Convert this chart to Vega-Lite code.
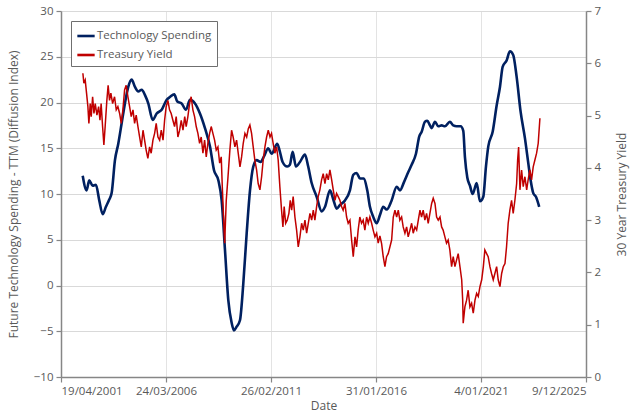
{
  "$schema": "https://vega.github.io/schema/vega-lite/v6.json",
  "width": 525,
  "height": 366,
  "autosize": {"type": "none"},
  "padding": {"left": 61, "top": 11, "right": 54, "bottom": 41},
  "background": "white",
  "config": {
    "font": "Open Sans",
    "view": {"stroke": null},
    "axis": {
      "labelFont": "Open Sans",
      "labelFontSize": 11.5,
      "labelColor": "#595959",
      "titleFont": "Open Sans",
      "titleFontSize": 12,
      "titleFontWeight": "normal",
      "titleColor": "#595959",
      "domainColor": "#868686",
      "domainWidth": 1.5,
      "tickColor": "#868686",
      "tickWidth": 1.2,
      "tickSize": 5,
      "gridColor": "#E3E3E3",
      "gridWidth": 1
    },
    "legend": {
      "labelFont": "Open Sans",
      "labelFontSize": 11.5,
      "labelColor": "#595959"
    }
  },
  "datasets": {
    "tech": [
      {"date": "2002-04-26", "value": 12.0},
      {"date": "2002-07-02", "value": 10.4},
      {"date": "2002-08-16", "value": 11.5},
      {"date": "2002-10-13", "value": 10.9},
      {"date": "2002-12-09", "value": 11.0},
      {"date": "2003-02-04", "value": 9.3},
      {"date": "2003-04-03", "value": 7.8},
      {"date": "2003-05-29", "value": 8.6},
      {"date": "2003-07-25", "value": 9.4},
      {"date": "2003-09-04", "value": 10.1},
      {"date": "2003-10-31", "value": 13.7},
      {"date": "2003-12-27", "value": 15.5},
      {"date": "2004-02-22", "value": 17.7},
      {"date": "2004-04-19", "value": 19.9},
      {"date": "2004-06-15", "value": 21.7},
      {"date": "2004-08-12", "value": 22.5},
      {"date": "2004-10-08", "value": 21.7},
      {"date": "2004-12-04", "value": 21.2},
      {"date": "2005-02-01", "value": 21.4},
      {"date": "2005-03-29", "value": 20.8},
      {"date": "2005-05-24", "value": 19.9},
      {"date": "2005-08-08", "value": 18.1},
      {"date": "2005-10-15", "value": 18.8},
      {"date": "2006-01-09", "value": 19.2},
      {"date": "2006-04-05", "value": 20.3},
      {"date": "2006-05-31", "value": 20.6},
      {"date": "2006-08-13", "value": 20.9},
      {"date": "2006-10-03", "value": 20.1},
      {"date": "2006-12-17", "value": 19.9},
      {"date": "2007-03-01", "value": 19.2},
      {"date": "2007-05-09", "value": 20.3},
      {"date": "2007-08-03", "value": 19.9},
      {"date": "2007-10-27", "value": 18.8},
      {"date": "2008-01-21", "value": 17.2},
      {"date": "2008-04-16", "value": 15.2},
      {"date": "2008-06-24", "value": 12.6},
      {"date": "2008-09-06", "value": 11.5},
      {"date": "2008-11-02", "value": 9.3},
      {"date": "2008-12-29", "value": 3.9},
      {"date": "2009-02-24", "value": -1.6},
      {"date": "2009-04-23", "value": -4.1},
      {"date": "2009-06-01", "value": -4.9},
      {"date": "2009-07-17", "value": -4.5},
      {"date": "2009-09-12", "value": -3.8},
      {"date": "2009-11-08", "value": 0.2},
      {"date": "2010-01-05", "value": 5.7},
      {"date": "2010-03-03", "value": 10.4},
      {"date": "2010-04-28", "value": 13.0},
      {"date": "2010-06-25", "value": 13.7},
      {"date": "2010-09-02", "value": 13.5},
      {"date": "2010-10-28", "value": 14.1},
      {"date": "2011-01-10", "value": 15.0},
      {"date": "2011-03-08", "value": 14.4},
      {"date": "2011-06-13", "value": 15.5},
      {"date": "2011-07-29", "value": 14.6},
      {"date": "2011-09-13", "value": 13.5},
      {"date": "2011-12-01", "value": 13.0},
      {"date": "2012-01-16", "value": 13.2},
      {"date": "2012-03-03", "value": 14.6},
      {"date": "2012-04-29", "value": 13.0},
      {"date": "2012-07-06", "value": 13.5},
      {"date": "2012-09-30", "value": 14.3},
      {"date": "2012-11-25", "value": 13.0},
      {"date": "2013-01-23", "value": 11.2},
      {"date": "2013-04-19", "value": 9.7},
      {"date": "2013-07-14", "value": 8.1},
      {"date": "2013-09-09", "value": 8.6},
      {"date": "2013-12-03", "value": 10.4},
      {"date": "2014-01-29", "value": 9.4},
      {"date": "2014-03-28", "value": 8.4},
      {"date": "2014-05-23", "value": 8.8},
      {"date": "2014-08-17", "value": 9.3},
      {"date": "2014-11-10", "value": 10.4},
      {"date": "2015-01-06", "value": 12.1},
      {"date": "2015-03-05", "value": 12.3},
      {"date": "2015-05-01", "value": 11.7},
      {"date": "2015-07-08", "value": 11.7},
      {"date": "2015-09-03", "value": 10.4},
      {"date": "2015-10-19", "value": 8.6},
      {"date": "2015-12-15", "value": 7.5},
      {"date": "2016-02-12", "value": 6.8},
      {"date": "2016-04-08", "value": 7.7},
      {"date": "2016-06-03", "value": 8.6},
      {"date": "2016-08-01", "value": 8.3},
      {"date": "2016-10-25", "value": 9.3},
      {"date": "2017-01-19", "value": 10.8},
      {"date": "2017-03-17", "value": 10.4},
      {"date": "2017-05-25", "value": 11.3},
      {"date": "2017-08-07", "value": 12.4},
      {"date": "2017-10-03", "value": 13.2},
      {"date": "2017-12-16", "value": 14.4},
      {"date": "2018-02-11", "value": 16.3},
      {"date": "2018-03-24", "value": 16.8},
      {"date": "2018-05-19", "value": 17.9},
      {"date": "2018-06-28", "value": 18.0},
      {"date": "2018-08-13", "value": 17.5},
      {"date": "2018-09-11", "value": 17.2},
      {"date": "2018-11-07", "value": 17.9},
      {"date": "2019-01-02", "value": 17.4},
      {"date": "2019-03-01", "value": 17.5},
      {"date": "2019-04-27", "value": 17.4},
      {"date": "2019-07-21", "value": 17.9},
      {"date": "2019-09-16", "value": 17.5},
      {"date": "2019-11-13", "value": 17.4},
      {"date": "2020-01-21", "value": 17.4},
      {"date": "2020-03-06", "value": 16.9},
      {"date": "2020-04-04", "value": 14.0},
      {"date": "2020-05-14", "value": 11.8},
      {"date": "2020-06-29", "value": 10.9},
      {"date": "2020-08-14", "value": 10.0},
      {"date": "2020-10-22", "value": 11.2},
      {"date": "2020-12-17", "value": 9.2},
      {"date": "2021-02-12", "value": 9.7},
      {"date": "2021-03-30", "value": 13.0},
      {"date": "2021-05-09", "value": 15.2},
      {"date": "2021-07-23", "value": 16.8},
      {"date": "2021-09-30", "value": 19.7},
      {"date": "2021-11-25", "value": 21.7},
      {"date": "2022-01-10", "value": 23.9},
      {"date": "2022-03-19", "value": 24.6},
      {"date": "2022-05-15", "value": 25.6},
      {"date": "2022-07-10", "value": 25.2},
      {"date": "2022-09-07", "value": 22.8},
      {"date": "2022-11-14", "value": 19.0},
      {"date": "2023-01-27", "value": 16.1},
      {"date": "2023-03-25", "value": 13.4},
      {"date": "2023-05-05", "value": 11.5},
      {"date": "2023-06-19", "value": 10.1},
      {"date": "2023-08-04", "value": 9.7},
      {"date": "2023-09-29", "value": 8.6}
    ],
    "yield": [
      {"date": "2002-04-29", "value": 5.81},
      {"date": "2002-05-16", "value": 5.62},
      {"date": "2002-06-08", "value": 5.68},
      {"date": "2002-07-01", "value": 5.43},
      {"date": "2002-07-24", "value": 5.17},
      {"date": "2002-08-10", "value": 4.85},
      {"date": "2002-09-02", "value": 5.23},
      {"date": "2002-09-19", "value": 4.98},
      {"date": "2002-10-13", "value": 5.36},
      {"date": "2002-11-05", "value": 5.04},
      {"date": "2002-11-27", "value": 5.23},
      {"date": "2002-12-26", "value": 5.01},
      {"date": "2003-01-24", "value": 5.17},
      {"date": "2003-02-16", "value": 4.91},
      {"date": "2003-03-08", "value": 5.23},
      {"date": "2003-04-02", "value": 4.79},
      {"date": "2003-04-24", "value": 4.44},
      {"date": "2003-05-16", "value": 4.79},
      {"date": "2003-06-14", "value": 5.29},
      {"date": "2003-07-06", "value": 5.58},
      {"date": "2003-07-30", "value": 5.29},
      {"date": "2003-08-22", "value": 5.43},
      {"date": "2003-09-21", "value": 5.23},
      {"date": "2003-10-24", "value": 5.36},
      {"date": "2003-11-22", "value": 5.11},
      {"date": "2003-12-20", "value": 5.17},
      {"date": "2004-01-19", "value": 5.04},
      {"date": "2004-02-16", "value": 4.85},
      {"date": "2004-03-15", "value": 5.11},
      {"date": "2004-04-13", "value": 5.49},
      {"date": "2004-05-10", "value": 5.58},
      {"date": "2004-06-09", "value": 5.36},
      {"date": "2004-07-08", "value": 5.17},
      {"date": "2004-08-05", "value": 4.98},
      {"date": "2004-09-04", "value": 5.11},
      {"date": "2004-10-02", "value": 4.85},
      {"date": "2004-10-29", "value": 5.01},
      {"date": "2004-11-28", "value": 4.79},
      {"date": "2004-12-27", "value": 4.59},
      {"date": "2005-01-24", "value": 4.40},
      {"date": "2005-02-23", "value": 4.72},
      {"date": "2005-03-22", "value": 4.53},
      {"date": "2005-04-18", "value": 4.34},
      {"date": "2005-05-17", "value": 4.18},
      {"date": "2005-06-16", "value": 4.40},
      {"date": "2005-07-13", "value": 4.28},
      {"date": "2005-08-12", "value": 4.53},
      {"date": "2005-09-10", "value": 4.66},
      {"date": "2005-10-07", "value": 4.85},
      {"date": "2005-11-06", "value": 4.59},
      {"date": "2005-12-05", "value": 4.53},
      {"date": "2006-01-02", "value": 4.72},
      {"date": "2006-02-01", "value": 4.53},
      {"date": "2006-02-28", "value": 4.91},
      {"date": "2006-03-27", "value": 5.17},
      {"date": "2006-04-25", "value": 5.29},
      {"date": "2006-05-24", "value": 5.11},
      {"date": "2006-06-21", "value": 5.04},
      {"date": "2006-07-20", "value": 4.91},
      {"date": "2006-08-18", "value": 4.79},
      {"date": "2006-09-15", "value": 4.98},
      {"date": "2006-10-14", "value": 4.59},
      {"date": "2006-11-13", "value": 4.72},
      {"date": "2006-12-10", "value": 4.91},
      {"date": "2007-01-09", "value": 4.72},
      {"date": "2007-02-08", "value": 4.98},
      {"date": "2007-03-05", "value": 4.79},
      {"date": "2007-04-03", "value": 4.98},
      {"date": "2007-05-02", "value": 5.23},
      {"date": "2007-05-29", "value": 5.36},
      {"date": "2007-06-28", "value": 5.11},
      {"date": "2007-07-27", "value": 4.98},
      {"date": "2007-08-24", "value": 4.79},
      {"date": "2007-09-22", "value": 4.66},
      {"date": "2007-10-21", "value": 4.47},
      {"date": "2007-11-18", "value": 4.59},
      {"date": "2007-12-17", "value": 4.28},
      {"date": "2008-01-15", "value": 4.53},
      {"date": "2008-02-12", "value": 4.21},
      {"date": "2008-03-11", "value": 4.47},
      {"date": "2008-04-10", "value": 4.66},
      {"date": "2008-05-07", "value": 4.79},
      {"date": "2008-06-05", "value": 4.66},
      {"date": "2008-07-04", "value": 4.53},
      {"date": "2008-08-01", "value": 4.34},
      {"date": "2008-08-30", "value": 4.40},
      {"date": "2008-09-29", "value": 4.09},
      {"date": "2008-10-26", "value": 4.21},
      {"date": "2008-11-13", "value": 3.64},
      {"date": "2008-12-07", "value": 3.00},
      {"date": "2008-12-24", "value": 2.56},
      {"date": "2009-01-20", "value": 3.38},
      {"date": "2009-02-19", "value": 3.83},
      {"date": "2009-03-23", "value": 4.34},
      {"date": "2009-04-21", "value": 4.72},
      {"date": "2009-05-18", "value": 4.59},
      {"date": "2009-06-17", "value": 4.40},
      {"date": "2009-07-16", "value": 4.53},
      {"date": "2009-08-13", "value": 4.28},
      {"date": "2009-09-12", "value": 4.02},
      {"date": "2009-10-10", "value": 4.21},
      {"date": "2009-11-07", "value": 4.47},
      {"date": "2009-12-06", "value": 4.66},
      {"date": "2010-01-05", "value": 4.59},
      {"date": "2010-02-02", "value": 4.75},
      {"date": "2010-03-01", "value": 4.82},
      {"date": "2010-03-30", "value": 4.66},
      {"date": "2010-04-27", "value": 4.40},
      {"date": "2010-05-25", "value": 4.15},
      {"date": "2010-06-24", "value": 3.96},
      {"date": "2010-07-21", "value": 3.70},
      {"date": "2010-08-20", "value": 3.58},
      {"date": "2010-09-18", "value": 3.83},
      {"date": "2010-10-15", "value": 4.15},
      {"date": "2010-11-14", "value": 4.40},
      {"date": "2010-12-13", "value": 4.59},
      {"date": "2011-01-10", "value": 4.72},
      {"date": "2011-02-09", "value": 4.59},
      {"date": "2011-03-07", "value": 4.66},
      {"date": "2011-04-04", "value": 4.47},
      {"date": "2011-05-03", "value": 4.28},
      {"date": "2011-06-02", "value": 4.40},
      {"date": "2011-06-29", "value": 4.15},
      {"date": "2011-07-28", "value": 3.64},
      {"date": "2011-08-26", "value": 3.19},
      {"date": "2011-09-18", "value": 2.87},
      {"date": "2011-10-10", "value": 3.26},
      {"date": "2011-11-04", "value": 2.94},
      {"date": "2011-12-01", "value": 3.00},
      {"date": "2011-12-30", "value": 3.13},
      {"date": "2012-01-22", "value": 3.38},
      {"date": "2012-02-15", "value": 3.19},
      {"date": "2012-03-12", "value": 3.45},
      {"date": "2012-04-11", "value": 3.06},
      {"date": "2012-05-10", "value": 2.81},
      {"date": "2012-06-07", "value": 2.49},
      {"date": "2012-07-06", "value": 2.68},
      {"date": "2012-08-04", "value": 2.94},
      {"date": "2012-09-01", "value": 2.81},
      {"date": "2012-09-30", "value": 3.00},
      {"date": "2012-10-29", "value": 2.75},
      {"date": "2012-11-26", "value": 2.94},
      {"date": "2012-12-25", "value": 3.13},
      {"date": "2013-01-23", "value": 3.00},
      {"date": "2013-02-20", "value": 3.19},
      {"date": "2013-03-19", "value": 3.00},
      {"date": "2013-04-18", "value": 3.26},
      {"date": "2013-05-15", "value": 3.45},
      {"date": "2013-06-13", "value": 3.58},
      {"date": "2013-07-12", "value": 3.77},
      {"date": "2013-08-09", "value": 3.89},
      {"date": "2013-09-08", "value": 3.70},
      {"date": "2013-10-07", "value": 3.89},
      {"date": "2013-11-04", "value": 3.77},
      {"date": "2013-12-02", "value": 3.96},
      {"date": "2014-01-01", "value": 3.77},
      {"date": "2014-01-28", "value": 3.58},
      {"date": "2014-02-27", "value": 3.38},
      {"date": "2014-03-26", "value": 3.51},
      {"date": "2014-04-23", "value": 3.45},
      {"date": "2014-05-22", "value": 3.38},
      {"date": "2014-06-20", "value": 3.26},
      {"date": "2014-07-17", "value": 3.19},
      {"date": "2014-08-16", "value": 3.32},
      {"date": "2014-09-14", "value": 3.06},
      {"date": "2014-10-11", "value": 2.94},
      {"date": "2014-11-10", "value": 3.00},
      {"date": "2014-12-09", "value": 2.62},
      {"date": "2015-01-06", "value": 2.30},
      {"date": "2015-02-05", "value": 2.68},
      {"date": "2015-03-04", "value": 2.49},
      {"date": "2015-03-31", "value": 2.81},
      {"date": "2015-04-29", "value": 3.06},
      {"date": "2015-05-28", "value": 2.94},
      {"date": "2015-06-25", "value": 3.00},
      {"date": "2015-07-24", "value": 2.81},
      {"date": "2015-08-23", "value": 3.06},
      {"date": "2015-09-20", "value": 2.94},
      {"date": "2015-10-18", "value": 3.06},
      {"date": "2015-11-17", "value": 2.94},
      {"date": "2015-12-14", "value": 2.81},
      {"date": "2016-01-13", "value": 2.68},
      {"date": "2016-02-11", "value": 2.75},
      {"date": "2016-03-09", "value": 2.56},
      {"date": "2016-04-07", "value": 2.70},
      {"date": "2016-05-06", "value": 2.55},
      {"date": "2016-06-03", "value": 2.30},
      {"date": "2016-07-02", "value": 2.11},
      {"date": "2016-07-30", "value": 2.30},
      {"date": "2016-08-27", "value": 2.36},
      {"date": "2016-09-26", "value": 2.49},
      {"date": "2016-10-25", "value": 2.62},
      {"date": "2016-11-22", "value": 3.06},
      {"date": "2016-12-21", "value": 3.19},
      {"date": "2017-01-19", "value": 3.06},
      {"date": "2017-02-16", "value": 3.19},
      {"date": "2017-03-15", "value": 3.00},
      {"date": "2017-04-14", "value": 3.06},
      {"date": "2017-05-11", "value": 2.87},
      {"date": "2017-06-10", "value": 2.75},
      {"date": "2017-07-09", "value": 2.87},
      {"date": "2017-08-05", "value": 2.68},
      {"date": "2017-09-04", "value": 2.81},
      {"date": "2017-10-03", "value": 2.94},
      {"date": "2017-10-30", "value": 2.75},
      {"date": "2017-11-29", "value": 2.87},
      {"date": "2017-12-28", "value": 2.81},
      {"date": "2018-01-25", "value": 3.00},
      {"date": "2018-02-23", "value": 3.19},
      {"date": "2018-03-22", "value": 3.06},
      {"date": "2018-04-19", "value": 3.19},
      {"date": "2018-05-18", "value": 3.00},
      {"date": "2018-06-16", "value": 3.13},
      {"date": "2018-07-14", "value": 2.94},
      {"date": "2018-08-12", "value": 3.13},
      {"date": "2018-09-11", "value": 3.32},
      {"date": "2018-10-08", "value": 3.42},
      {"date": "2018-11-07", "value": 3.32},
      {"date": "2018-12-05", "value": 3.06},
      {"date": "2019-01-02", "value": 3.00},
      {"date": "2019-02-01", "value": 3.06},
      {"date": "2019-03-01", "value": 2.87},
      {"date": "2019-03-27", "value": 2.81},
      {"date": "2019-04-26", "value": 2.68},
      {"date": "2019-05-24", "value": 2.56},
      {"date": "2019-06-21", "value": 2.62},
      {"date": "2019-07-20", "value": 2.43},
      {"date": "2019-08-19", "value": 2.11},
      {"date": "2019-09-16", "value": 2.30},
      {"date": "2019-10-15", "value": 2.11},
      {"date": "2019-11-13", "value": 2.24},
      {"date": "2019-12-10", "value": 2.36},
      {"date": "2020-01-09", "value": 2.11},
      {"date": "2020-02-08", "value": 1.86},
      {"date": "2020-02-25", "value": 1.47},
      {"date": "2020-03-05", "value": 1.03},
      {"date": "2020-04-03", "value": 1.34},
      {"date": "2020-05-02", "value": 1.47},
      {"date": "2020-05-29", "value": 1.66},
      {"date": "2020-06-28", "value": 1.34},
      {"date": "2020-07-27", "value": 1.41},
      {"date": "2020-08-24", "value": 1.22},
      {"date": "2020-09-23", "value": 1.47},
      {"date": "2020-10-21", "value": 1.60},
      {"date": "2020-11-18", "value": 1.54},
      {"date": "2020-12-17", "value": 1.73},
      {"date": "2021-01-16", "value": 1.86},
      {"date": "2021-02-13", "value": 2.11},
      {"date": "2021-03-11", "value": 2.43},
      {"date": "2021-04-10", "value": 2.36},
      {"date": "2021-05-07", "value": 2.30},
      {"date": "2021-06-06", "value": 2.11},
      {"date": "2021-07-04", "value": 1.98},
      {"date": "2021-08-02", "value": 1.86},
      {"date": "2021-08-30", "value": 1.98},
      {"date": "2021-09-29", "value": 2.11},
      {"date": "2021-10-26", "value": 1.86},
      {"date": "2021-11-25", "value": 1.73},
      {"date": "2021-12-24", "value": 1.98},
      {"date": "2022-01-21", "value": 2.11},
      {"date": "2022-02-19", "value": 2.17},
      {"date": "2022-03-18", "value": 2.49},
      {"date": "2022-04-15", "value": 2.94},
      {"date": "2022-05-14", "value": 3.19},
      {"date": "2022-06-12", "value": 3.38},
      {"date": "2022-07-10", "value": 3.13},
      {"date": "2022-08-08", "value": 3.38},
      {"date": "2022-09-07", "value": 3.70},
      {"date": "2022-09-24", "value": 4.15},
      {"date": "2022-10-11", "value": 4.40},
      {"date": "2022-11-03", "value": 3.58},
      {"date": "2022-12-01", "value": 3.96},
      {"date": "2022-12-29", "value": 3.64},
      {"date": "2023-01-27", "value": 3.83},
      {"date": "2023-02-26", "value": 3.58},
      {"date": "2023-03-23", "value": 3.77},
      {"date": "2023-04-22", "value": 3.96},
      {"date": "2023-05-21", "value": 3.77},
      {"date": "2023-06-18", "value": 4.02},
      {"date": "2023-07-17", "value": 4.15},
      {"date": "2023-08-15", "value": 4.28},
      {"date": "2023-09-12", "value": 4.47},
      {"date": "2023-10-11", "value": 4.95}
    ]
  },
  "encoding": {
    "x": {
      "field": "date",
      "type": "temporal",
      "scale": {
        "type": "utc",
        "domain": [
          {"year": 2001, "month": 4, "date": 19, "utc": true},
          {"year": 2025, "month": 12, "date": 9, "utc": true}
        ]
      },
      "axis": {
        "title": "Date",
        "titlePadding": 4,
        "values": [
          {"year": 2001, "month": 4, "date": 19, "utc": true},
          {"year": 2006, "month": 3, "date": 24, "utc": true},
          {"year": 2011, "month": 2, "date": 26, "utc": true},
          {"year": 2016, "month": 1, "date": 31, "utc": true},
          {"year": 2021, "month": 1, "date": 4, "utc": true},
          {"year": 2025, "month": 12, "date": 9, "utc": true}
        ],
        "labelExpr": "utcFormat(datum.value, '%-d/%m/%Y')",
        "labelOverlap": false,
        "labelPadding": 3,
        "grid": true
      }
    }
  },
  "layer": [
    {
      "data": {"name": "tech"},
      "mark": {"type": "line", "strokeWidth": 2.6, "interpolate": "monotone"},
      "encoding": {
        "y": {
          "field": "value",
          "type": "quantitative",
          "scale": {"domain": [-10, 30], "nice": false, "zero": false},
          "axis": {
            "orient": "left",
            "title": "Future Technology Spending - TTM (Diffusion Index)",
            "titlePadding": 13,
            "values": [-10, -5, 0, 5, 10, 15, 20, 25, 30],
            "grid": true,
            "gridColor": "#D9D9D9",
            "labelPadding": 3
          }
        },
        "color": {
          "datum": "Technology Spending",
          "type": "nominal",
          "scale": {
            "domain": ["Technology Spending", "Treasury Yield"],
            "range": ["#002060", "#C00000"]
          },
          "legend": {
            "title": null,
            "orient": "top-left",
            "offset": 10,
            "symbolType": "stroke",
            "symbolSize": 300,
            "symbolStrokeWidth": 2.6,
            "labelOffset": 1,
            "rowPadding": 3,
            "padding": 5,
            "strokeColor": "#6f6f6f",
            "fillColor": "white"
          }
        }
      }
    },
    {
      "data": {"name": "yield"},
      "mark": {"type": "line", "strokeWidth": 1.5},
      "encoding": {
        "y": {
          "field": "value",
          "type": "quantitative",
          "scale": {"domain": [0, 7], "nice": false, "zero": false},
          "axis": {
            "orient": "right",
            "title": "30 Year Treasury Yield",
            "titleAngle": 270,
            "titleBaseline": "top",
            "titlePadding": 16,
            "values": [0, 1, 2, 3, 4, 5, 6, 7],
            "grid": false,
            "labelPadding": 3
          }
        },
        "color": {"datum": "Treasury Yield", "type": "nominal"}
      }
    }
  ],
  "resolve": {"scale": {"y": "independent"}}
}
